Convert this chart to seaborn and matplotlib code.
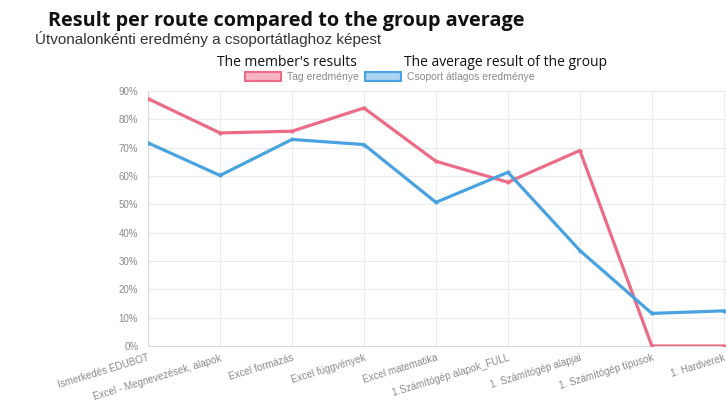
import matplotlib
matplotlib.use("Agg")
import matplotlib.pyplot as plt
import seaborn as sns
import pandas as pd
from matplotlib.patches import Patch

categories = [
    "Ismerkedés EDUBOT",
    "Excel - Megnevezések, alapok",
    "Excel formázás",
    "Excel függvények",
    "Excel matematika",
    "1.Számítógép alapok_FULL",
    "1. Számítógép alapjai",
    "1. Számítógép típusok",
    "1. Hardverek",
]
member_values = [87.3, 75.2, 75.8, 84.0, 65.2, 57.8, 69.0, 0.0, 0.0]
group_values = [71.7, 60.2, 72.9, 71.1, 50.7, 61.3, 33.7, 11.5, 12.4]
series_names = ["Tag eredménye", "Csoport átlagos eredménye"]
header_texts = ["The member's results", "The average result of the group"]
y_ticks = [0, 10, 20, 30, 40, 50, 60, 70, 80, 90]

red = "#ec6c87"
blue = "#4aa3e0"

df = pd.DataFrame({
    "route": categories * 2,
    "value": member_values + group_values,
    "series": [series_names[0]] * len(categories) + [series_names[1]] * len(categories),
})

sns.set_theme(style="white")
plt.rcParams["font.family"] = ["DejaVu Sans"]

fig = plt.figure(figsize=(7.26, 4.03), dpi=100)
ax = fig.add_axes([148 / 726, 1 - 346 / 403, 1 - 148 / 726, (346 - 91) / 403])

sns.lineplot(data=df, x="route", y="value", hue="series", sort=False,
             palette={series_names[0]: red, series_names[1]: blue},
             linewidth=2.3, marker="o", markersize=3, markeredgewidth=0,
             legend=False, ax=ax, zorder=3)

ax.set_xlim(0, 8.03)
ax.set_ylim(0, 90)
ax.set_yticks(y_ticks)
ax.set_yticklabels([f"{v}%" for v in y_ticks], fontsize=7, color="#8a8a8a",
                   family="Liberation Sans")
ax.set_xticks(range(len(categories)))
ax.set_xticklabels(categories, rotation=17, ha="right", rotation_mode="anchor",
                   fontsize=7.1, color="#8a8a8a", family="Liberation Sans")
ax.tick_params(axis="both", length=4, color="#e6e6e6", width=0.8, pad=3)
ax.tick_params(axis="x", pad=1)
ax.grid(True, color="#ececec", linewidth=0.8)
ax.set_xlabel("")
ax.set_ylabel("")
for side in ["top", "right"]:
    ax.spines[side].set_visible(False)
for side in ["left", "bottom"]:
    ax.spines[side].set_color("#dcdcdc")
    ax.spines[side].set_linewidth(0.8)

fig.text(48 / 726, 1 - 26 / 403, "Result per route compared to the group average",
         fontsize=14.3, fontweight="bold", family="Open Sans", color="#111111")
fig.text(35 / 726, 1 - 44 / 403, "Útvonalonkénti eredmény a csoportátlaghoz képest",
         fontsize=11, family="Liberation Sans", color="#333333")

fig.text(217 / 726, 1 - 66 / 403, header_texts[0], fontsize=10, family="Open Sans",
         color="#111111")
fig.text(404 / 726, 1 - 66 / 403, header_texts[1], fontsize=10, family="Open Sans",
         color="#111111")

handles = [
    Patch(facecolor="#f6b3c1", edgecolor=red, linewidth=1.5, label=series_names[0]),
    Patch(facecolor="#a9d3f1", edgecolor=blue, linewidth=1.5, label=series_names[1]),
]
leg = fig.legend(handles=handles, loc="center", bbox_to_anchor=(390 / 726, 1 - 77 / 403),
                 ncol=2, frameon=False, handlelength=3.4, handleheight=0.9,
                 columnspacing=0.6, handletextpad=0.6, labelcolor="#8a8a8a",
                 borderpad=0, borderaxespad=0,
                 prop={"family": "Liberation Sans", "size": 7.5})

fig.savefig("out.png", dpi=100)
